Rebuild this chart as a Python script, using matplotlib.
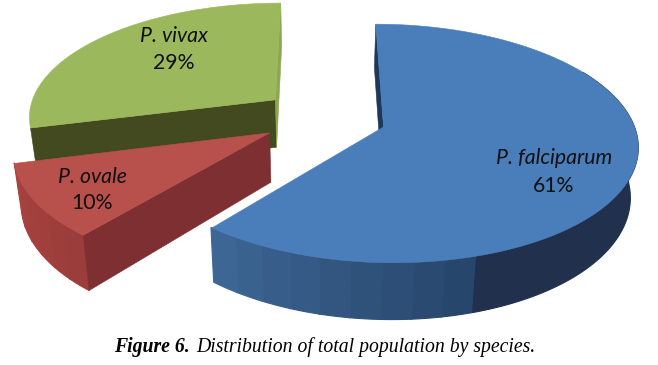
import numpy as np
import matplotlib
matplotlib.use("Agg")
import matplotlib.pyplot as plt
from matplotlib.patches import Polygon

species = ["P. falciparum", "P. ovale", "P. vivax"]
shares = [61, 10, 29]
top_colors = ["#4A7EBB", "#B8504C", "#9BB85C"]
start_face = ["#1F385A", "#7D2F32", "#434A20"]
end_face = [None, None, "#8CA652"]
side_far = ["#26446A", "#9A3C3A", "#434A20"]
side_near = ["#3E6896", "#A8423F", "#434A20"]
label_xy = [(554, 158, 186), (92, 177, 203), (174, 36, 63)]
caption_bold = "Figure 6."
caption_rest = "Distribution of total population by species."

W, H = 658, 365
X0, Y0 = 320.0, 127.0      # view centre in pixels
RX, RV = 251.0, 117.0      # disc radii
K = 0.138                  # perspective strength
DEPTH, SHRINK = 49.0, 0.975
START = 0.0
DARK_FROM = 163.5
apex = [(63.5, 0.0), (-50.0, 0.05), (-46.0, -0.24)]


def project(wx, wv, low=False):
    s = 1.0 / (1.0 - K * wv)
    x = wx * s
    y = Y0 + RV * wv * s
    if low:
        x = x * SHRINK
        y = y + DEPTH * s
    return X0 + x, y


def rim(a, th):
    return a[0] + RX * np.sin(np.radians(th)), a[1] - np.cos(np.radians(th))


def poly(ax, xs, ys, color, z, lw=0.4):
    ax.add_patch(Polygon(np.column_stack([xs, ys]), closed=True, facecolor=color,
                         edgecolor=color, linewidth=lw, zorder=z))


def mix(c1, c2, t):
    a, b = np.array(matplotlib.colors.to_rgb(c1)), np.array(matplotlib.colors.to_rgb(c2))
    return tuple(a + (b - a) * t)


def wall(ax, a, t0, t1, color, z, lw=0.4):
    tb = np.linspace(t0, t1, max(8, int(abs(t1 - t0))))
    bx, bv = rim(a, tb)
    xt, yt = project(bx, bv)
    xl, yl = project(bx, bv, low=True)
    poly(ax, np.r_[xt, xl[::-1]], np.r_[yt, yl[::-1]], color, z, lw)


def face(ax, a, th, color, z):
    ox, ov = rim(a, th)
    p1 = project(a[0], a[1])
    p2 = project(ox, ov)
    p3 = project(ox, ov, low=True)
    p4 = project(a[0], a[1], low=True)
    poly(ax, [p1[0], p2[0], p3[0], p4[0]], [p1[1], p2[1], p3[1], p4[1]], color, z)


fig = plt.figure(figsize=(W / 100, H / 100), dpi=100)
ax = fig.add_axes([0, 0, 1, 1])
ax.set_xlim(0, W)
ax.set_ylim(H, 0)
ax.axis("off")

edges = START + np.cumsum([0] + shares) * 3.6
for rank, i in enumerate([2, 1, 0]):
    a = apex[i]
    t0, t1 = edges[i], edges[i + 1]
    z = 10 * (rank + 1)

    if i == 0:
        wall(ax, a, 60, DARK_FROM, "#21314D", z, 0.8)
        band_from = DARK_FROM
    elif i == 1:
        band_from = t0
    else:
        band_from = None

    if band_from is not None:
        n = max(2, int((t1 - band_from) / 6.0))
        bands = np.linspace(band_from, t1, n + 1)
        for k in range(n):
            col = mix(side_far[i], side_near[i], (k + 0.5) / n)
            wall(ax, a, bands[k], bands[k + 1] + 0.3, col, z, 0.8)

    face(ax, a, t0, start_face[i], z + 1)
    if end_face[i]:
        face(ax, a, t1, end_face[i], z + 1)

    wx, wv = rim(a, np.linspace(t0, t1, 160))
    xt, yt = project(wx, wv)
    pa = project(a[0], a[1])
    poly(ax, np.r_[pa[0], xt], np.r_[pa[1], yt], top_colors[i], z + 2)

for name, share, (x, y1, y2) in zip(species, shares, label_xy):
    ax.text(x, y1, name, ha="center", va="center", family="Lato", style="italic",
            fontsize=15.3, color="#101010", zorder=100)
    ax.text(x, y2, f"{share}%", ha="center", va="center", family="Lato",
            fontsize=15.3, color="#101010", zorder=100)

ax.text(190, 347, caption_bold, ha="right", va="center", family="Liberation Serif",
        style="italic", weight="bold", fontsize=14.2, color="black")
ax.text(196, 347, caption_rest, ha="left", va="center", family="Liberation Serif",
        style="italic", fontsize=14.2, color="black")

fig.savefig("out.png", dpi=100, facecolor="white")
